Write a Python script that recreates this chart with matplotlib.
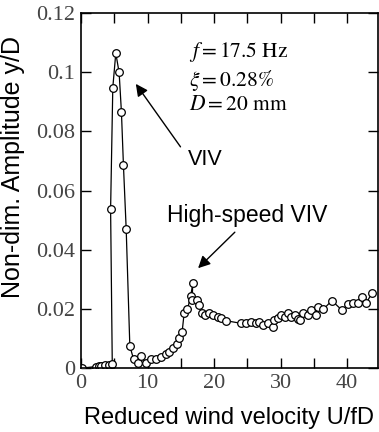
import matplotlib.pyplot as plt
from matplotlib.ticker import MultipleLocator

# reduced wind velocity U/fD and non-dim. amplitude y/D
U = [0.2, 2.2, 2.7, 3.0, 3.6, 4.2, 4.7, 4.45, 4.78, 5.23, 5.73, 6.08, 6.38, 6.79,
     7.34, 7.9, 8.5, 9.0, 9.8, 10.5, 11.3, 12.0, 12.8, 13.3, 13.8, 14.4, 14.8,
     15.2, 15.5, 16.0, 16.5, 16.8, 16.7, 17.5, 17.8, 18.2, 18.6, 19.3, 19.8,
     20.6, 21.1, 21.8, 24.1, 24.8, 25.6, 26.3, 26.8, 27.3, 28.1, 28.9, 29.0,
     29.6, 30.1, 30.6, 31.1, 31.6, 32.1, 32.6, 32.9, 33.4, 34.1, 34.6, 35.3,
     35.6, 36.4, 37.7, 39.2, 40.2, 40.9, 41.7, 42.2, 42.9, 43.7]
AMP = [0.0, 0.0005, 0.0007, 0.0008, 0.001, 0.0012, 0.0015, 0.0537, 0.0948, 0.1064,
       0.0999, 0.0864, 0.0685, 0.0471, 0.0075, 0.003, 0.0016, 0.004, 0.0016,
       0.003, 0.003, 0.0036, 0.0047, 0.0055, 0.0069, 0.0083, 0.010, 0.0122,
       0.0185, 0.0198, 0.0245, 0.0286, 0.023, 0.023, 0.0213, 0.0187, 0.0179,
       0.0185, 0.0179, 0.0173, 0.0168, 0.016, 0.0151, 0.0151, 0.0154, 0.0151,
       0.0157, 0.0145, 0.0153, 0.0138, 0.0162, 0.0168, 0.0179, 0.0173, 0.0185,
       0.0173, 0.0179, 0.0165, 0.0162, 0.0185, 0.0179, 0.0196, 0.0179, 0.0207,
       0.0198, 0.0228, 0.0196, 0.0216, 0.0221, 0.0219, 0.0241, 0.0221, 0.0252]

XTICKS = [0, 10, 20, 30, 40]
YTICKS = [0, 0.02, 0.04, 0.06, 0.08, 0.1, 0.12]
YTICK_LABELS = ["0", "0.02", "0.04", "0.06", "0.08", "0.1", "0.12"]

plt.rcParams['mathtext.fontset'] = 'stix'

fig = plt.figure(figsize=(3.79, 4.32), dpi=100)
ax = fig.add_axes([0.2137, 0.148, 0.783, 0.822])

ax.plot(U, AMP, '-', color='black', linewidth=0.9, marker='o', markersize=5.5,
        markerfacecolor='white', markeredgecolor='black', markeredgewidth=0.9)

ax.set_xlim(0, 44.6)
ax.set_ylim(0, 0.12)
ax.set_xticks(XTICKS)
ax.xaxis.set_minor_locator(MultipleLocator(5))
ax.set_yticks(YTICKS)
ax.set_yticklabels(YTICK_LABELS)
ax.tick_params(which='both', direction='in', top=True, right=True, length=7,
               width=1, labelsize=16, pad=4)
for lbl in ax.get_xticklabels() + ax.get_yticklabels():
    lbl.set_family('Liberation Serif')
    lbl.set_color('#444444')
for s in ax.spines.values():
    s.set_linewidth(1.2)

ax.set_xlabel("Reduced wind velocity U/fD", family='Liberation Sans', fontsize=17,
              labelpad=10)
ax.set_ylabel("Non-dim. Amplitude y/D", family='Liberation Sans', fontsize=18)
ax.yaxis.set_label_coords(-0.19, 0.566)

ax.text(16.3, 0.1051, r'$f = 17.5\ \mathrm{Hz}$', fontsize=15.5, va='baseline')
ax.text(16.3, 0.0953, r'$\xi = 0.28\%$', fontsize=15.5, va='baseline')
ax.text(16.3, 0.0872, r'$D = 20\ \mathrm{mm}$', fontsize=15.5, va='baseline')

ax.annotate("VIV", xy=(8.0, 0.0968), xytext=(16.0, 0.0705), family='Liberation Sans',
            fontsize=15.5, va='center',
            arrowprops=dict(arrowstyle='-|>', color='black', lw=1.0,
                            mutation_scale=18, shrinkA=0,
                            relpos=(-0.2, 1.1)))
ax.annotate("High-speed VIV", xy=(17.3, 0.0331), xytext=(13.0, 0.0514),
            family='Liberation Sans', fontsize=16.5, va='center',
            arrowprops=dict(arrowstyle='-|>', color='black', lw=1.0,
                            mutation_scale=18, shrinkA=2,
                            relpos=(0.45, 0)))

fig.savefig("out.png", dpi=100)
